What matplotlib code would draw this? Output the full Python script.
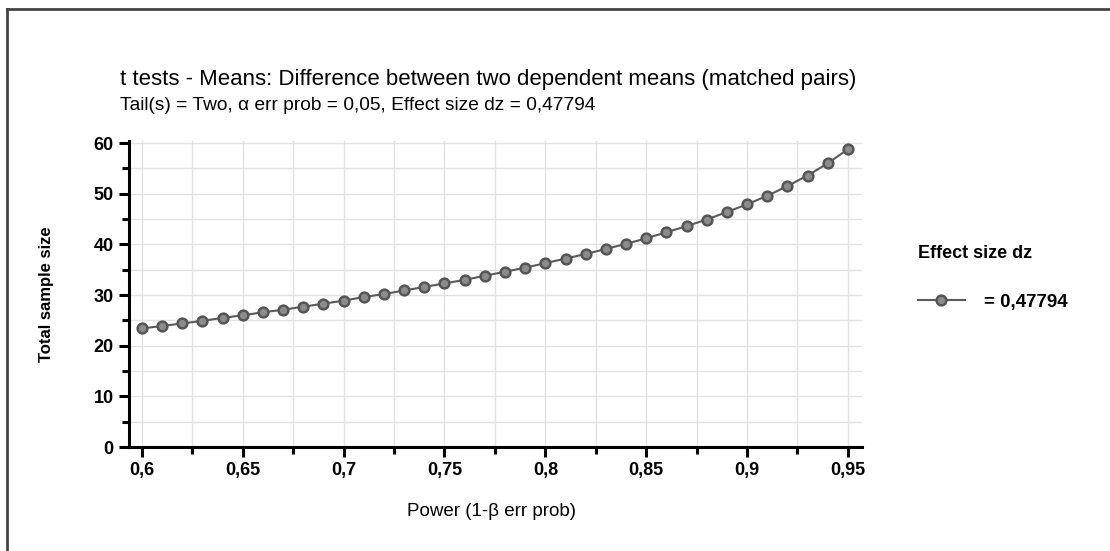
import matplotlib
matplotlib.use("Agg")
import matplotlib.pyplot as plt
from matplotlib.ticker import MultipleLocator, FuncFormatter
from matplotlib.lines import Line2D

# Power (1-beta) values and the required total sample size
power = [0.60, 0.61, 0.62, 0.63, 0.64, 0.65, 0.66, 0.67, 0.68, 0.69,
         0.70, 0.71, 0.72, 0.73, 0.74, 0.75, 0.76, 0.77, 0.78, 0.79,
         0.80, 0.81, 0.82, 0.83, 0.84, 0.85, 0.86, 0.87, 0.88, 0.89,
         0.90, 0.91, 0.92, 0.93, 0.94, 0.95]
total_n = [23.4, 23.9, 24.4, 24.9, 25.5, 26.0, 26.6, 27.1, 27.7, 28.3,
           28.9, 29.6, 30.2, 30.9, 31.6, 32.3, 33.0, 33.8, 34.6, 35.4,
           36.3, 37.2, 38.1, 39.1, 40.1, 41.2, 42.4, 43.6, 44.9, 46.4,
           47.9, 49.6, 51.5, 53.6, 56.0, 58.8]

title = "t tests - Means: Difference between two dependent means (matched pairs)"
subtitle = "Tail(s) = Two, \u03b1 err prob = 0,05, Effect size dz = 0,47794"
legend_title = "Effect size dz"
legend_label = "= 0,47794"

plt.rcParams["font.family"] = ["Liberation Sans", "DejaVu Sans"]

fig = plt.figure(figsize=(11.1, 5.51), dpi=100)
ax = fig.add_axes([0.1162, 0.1887, 0.7766 - 0.1162, 0.744 - 0.1887])

ax.plot(power, total_n, color="#5a5a5a", lw=1.5, marker="o", markersize=7,
        markerfacecolor="#8c8c8c", markeredgecolor="#555555",
        markeredgewidth=1.8, zorder=3)

ax.set_xlim(0.5936, 0.957)
ax.set_ylim(0, 60.4)
ax.xaxis.set_major_locator(MultipleLocator(0.05))
ax.xaxis.set_minor_locator(MultipleLocator(0.025))
ax.yaxis.set_major_locator(MultipleLocator(10))
ax.yaxis.set_minor_locator(MultipleLocator(5))


def comma(v, pos):
    s = f"{v:.2f}".rstrip("0").rstrip(".") if abs(v) < 5 else f"{v:.0f}"
    return s.replace(".", ",")


ax.xaxis.set_major_formatter(FuncFormatter(comma))
ax.yaxis.set_major_formatter(FuncFormatter(comma))

ax.grid(which="both", color="#e2e2e2", lw=1.0, zorder=0)
for side in ("top", "right"):
    ax.spines[side].set_visible(False)
for side in ("left", "bottom"):
    ax.spines[side].set_linewidth(2.2)
    ax.spines[side].set_color("black")

ax.tick_params(which="major", direction="out", length=7, width=2.2,
               labelsize=13, pad=4)
ax.tick_params(which="minor", direction="out", length=5, width=2.2)
for lab in ax.get_xticklabels() + ax.get_yticklabels():
    lab.set_fontweight("bold")

ax.set_xlabel("Power (1-\u03b2 err prob)", fontsize=13.5)
ax.set_ylabel("Total sample size", fontsize=12, fontweight="bold")
ax.xaxis.set_label_coords(0.495, -0.182)
ax.yaxis.set_label_coords(-0.102, 0.5)

fig.text(120 / 1110, 1 - 79 / 551, title, fontsize=16, va="center",
         ha="left")
fig.text(120 / 1110, 1 - 105 / 551, subtitle, fontsize=13.8, va="center",
         ha="left")

fig.text(918 / 1110, 1 - 253 / 551, legend_title, fontsize=13,
         fontweight="bold", va="center", ha="left")
handle = Line2D([], [], color="#5a5a5a", lw=1.5, marker="o", markersize=7,
                markerfacecolor="#8c8c8c", markeredgecolor="#555555",
                markeredgewidth=1.8)
leg = ax.legend([handle], [legend_label], loc="center left",
                bbox_to_anchor=(918 / 1110, 1 - 302 / 551),
                bbox_transform=fig.transFigure, frameon=False,
                borderpad=0, borderaxespad=0, handlelength=2.5,
                handletextpad=1.0, prop={"size": 13.5, "weight": "bold"})

# frame lines along the top and left edges of the image
fig.add_artist(Line2D([7 / 1110, 1], [1 - 9 / 551, 1 - 9 / 551],
                      transform=fig.transFigure, color="#444444", lw=2))
fig.add_artist(Line2D([7 / 1110, 7 / 1110], [0, 1 - 9 / 551],
                      transform=fig.transFigure, color="#444444", lw=2))

fig.savefig("out.png", dpi=100)
